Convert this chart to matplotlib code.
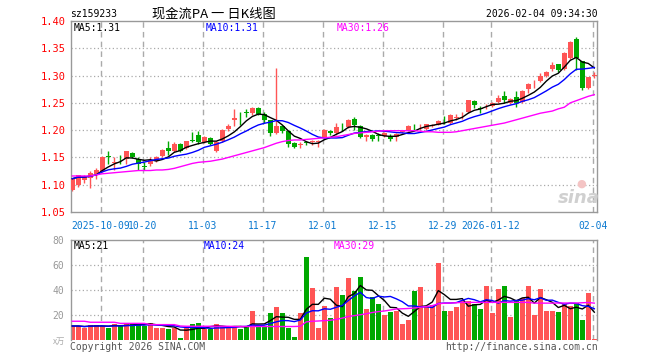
import matplotlib
matplotlib.use("Agg")
import matplotlib.pyplot as plt
import pandas as pd

plt.rcParams["font.family"] = ["DejaVu Sans Mono"]

# 日付 (88本)
dates = [
    "2025-09-24", "2025-09-25", "2025-09-26", "2025-09-29", "2025-09-30",
    "2025-10-09", "2025-10-10", "2025-10-13", "2025-10-14", "2025-10-15", "2025-10-16", "2025-10-17",
    "2025-10-20", "2025-10-21", "2025-10-22", "2025-10-23", "2025-10-24",
    "2025-10-27", "2025-10-28", "2025-10-29", "2025-10-30", "2025-10-31",
    "2025-11-03", "2025-11-04", "2025-11-05", "2025-11-06", "2025-11-07",
    "2025-11-10", "2025-11-11", "2025-11-12", "2025-11-13", "2025-11-14",
    "2025-11-17", "2025-11-18", "2025-11-19", "2025-11-20", "2025-11-21",
    "2025-11-24", "2025-11-25", "2025-11-26", "2025-11-27", "2025-11-28",
    "2025-12-01", "2025-12-02", "2025-12-03", "2025-12-04", "2025-12-05",
    "2025-12-08", "2025-12-09", "2025-12-10", "2025-12-11", "2025-12-12",
    "2025-12-15", "2025-12-16", "2025-12-17", "2025-12-18", "2025-12-19",
    "2025-12-22", "2025-12-23", "2025-12-24", "2025-12-25", "2025-12-26",
    "2025-12-29", "2025-12-30", "2025-12-31",
    "2026-01-05", "2026-01-06", "2026-01-07", "2026-01-08", "2026-01-09",
    "2026-01-12", "2026-01-13", "2026-01-14", "2026-01-15", "2026-01-16",
    "2026-01-19", "2026-01-20", "2026-01-21", "2026-01-22", "2026-01-23",
    "2026-01-26", "2026-01-27", "2026-01-28", "2026-01-29", "2026-01-30",
    "2026-02-02", "2026-02-03", "2026-02-04",
]

opens = [
    1.090, 1.100, 1.108, 1.112, 1.120, 1.126, 1.152, 1.139, 1.142, 1.147,
    1.159, 1.148, 1.134, 1.138, 1.144, 1.152, 1.168, 1.162, 1.175, 1.168,
    1.182, 1.192, 1.178, 1.186, 1.162, 1.181, 1.202, 1.218, 1.223, 1.233,
    1.232, 1.241, 1.229, 1.218, 1.195, 1.207, 1.198, 1.177, 1.173, 1.178,
    1.179, 1.179, 1.187, 1.199, 1.195, 1.206, 1.206, 1.221, 1.208, 1.187,
    1.192, 1.191, 1.190, 1.190, 1.187, 1.196, 1.200, 1.210, 1.207, 1.203,
    1.208, 1.210, 1.221, 1.213, 1.223, 1.229, 1.234, 1.254, 1.240, 1.244,
    1.244, 1.251, 1.263, 1.250, 1.260, 1.252, 1.275, 1.284, 1.290, 1.299,
    1.312, 1.321, 1.312, 1.332, 1.367, 1.326, 1.278, 1.300,
]
highs = [
    1.112, 1.118, 1.118, 1.125, 1.131, 1.152, 1.162, 1.150, 1.155, 1.162,
    1.160, 1.150, 1.141, 1.150, 1.153, 1.165, 1.180, 1.178, 1.176, 1.181,
    1.196, 1.199, 1.189, 1.188, 1.181, 1.203, 1.212, 1.239, 1.233, 1.239,
    1.242, 1.242, 1.233, 1.219, 1.314, 1.210, 1.199, 1.179, 1.178, 1.181,
    1.182, 1.182, 1.202, 1.200, 1.213, 1.214, 1.221, 1.224, 1.209, 1.193,
    1.193, 1.194, 1.196, 1.193, 1.194, 1.201, 1.209, 1.212, 1.211, 1.212,
    1.212, 1.219, 1.226, 1.229, 1.229, 1.234, 1.256, 1.255, 1.244, 1.248,
    1.252, 1.264, 1.271, 1.258, 1.271, 1.273, 1.286, 1.291, 1.305, 1.309,
    1.325, 1.322, 1.344, 1.363, 1.370, 1.327, 1.298, 1.307,
]
lows = [
    1.088, 1.096, 1.104, 1.094, 1.110, 1.124, 1.138, 1.127, 1.138, 1.138,
    1.149, 1.127, 1.127, 1.135, 1.141, 1.150, 1.155, 1.160, 1.160, 1.166,
    1.178, 1.175, 1.176, 1.172, 1.160, 1.179, 1.199, 1.207, 1.210, 1.224,
    1.228, 1.228, 1.213, 1.190, 1.193, 1.194, 1.170, 1.167, 1.168, 1.173,
    1.173, 1.170, 1.186, 1.191, 1.192, 1.199, 1.204, 1.200, 1.186, 1.181,
    1.181, 1.181, 1.188, 1.180, 1.180, 1.194, 1.198, 1.201, 1.200, 1.201,
    1.205, 1.209, 1.211, 1.211, 1.218, 1.221, 1.232, 1.240, 1.232, 1.239,
    1.243, 1.250, 1.249, 1.248, 1.243, 1.250, 1.268, 1.277, 1.289, 1.298,
    1.309, 1.306, 1.311, 1.330, 1.310, 1.273, 1.275, 1.295,
]
closes = [
    1.111, 1.117, 1.114, 1.121, 1.127, 1.151, 1.150, 1.142, 1.141, 1.162,
    1.150, 1.138, 1.133, 1.146, 1.150, 1.164, 1.162, 1.175, 1.162, 1.180,
    1.181, 1.178, 1.187, 1.174, 1.179, 1.201, 1.207, 1.223, 1.222, 1.232,
    1.241, 1.229, 1.218, 1.195, 1.207, 1.198, 1.175, 1.170, 1.174, 1.177,
    1.180, 1.180, 1.201, 1.195, 1.206, 1.205, 1.219, 1.209, 1.187, 1.192,
    1.183, 1.190, 1.195, 1.183, 1.193, 1.199, 1.207, 1.209, 1.208, 1.211,
    1.209, 1.217, 1.220, 1.227, 1.224, 1.230, 1.255, 1.246, 1.239, 1.245,
    1.250, 1.258, 1.255, 1.257, 1.250, 1.272, 1.285, 1.285, 1.300, 1.307,
    1.319, 1.310, 1.342, 1.362, 1.333, 1.277, 1.297, 1.301,
]
ma30 = [
    1.116, 1.116, 1.116, 1.116, 1.118, 1.120, 1.121, 1.122, 1.123, 1.124,
    1.125, 1.126, 1.126, 1.126, 1.127, 1.127, 1.128, 1.130, 1.133, 1.136,
    1.139, 1.141, 1.142, 1.143, 1.145, 1.147, 1.150, 1.153, 1.156, 1.159,
    1.162, 1.165, 1.168, 1.172, 1.176, 1.179, 1.181, 1.182, 1.182, 1.183,
    1.184, 1.185, 1.186, 1.187, 1.188, 1.190, 1.192, 1.194, 1.195, 1.196,
    1.197, 1.198, 1.199, 1.199, 1.199, 1.199, 1.199, 1.199, 1.198, 1.197,
    1.197, 1.196, 1.196, 1.196, 1.197, 1.199, 1.201, 1.203, 1.205, 1.207,
    1.209, 1.211, 1.213, 1.216, 1.219, 1.222, 1.225, 1.228, 1.231, 1.233,
    1.235, 1.239, 1.242, 1.250, 1.254, 1.258, 1.262, 1.265,
]
# 成交量 (万)
volumes = [
    11.2, 11.2, 9.9, 12.0, 12.0, 11.2, 9.9, 12.8, 11.2, 13.3,
    12.8, 13.3, 11.2, 13.9, 9.9, 10.0, 8.8, 9.3, 1.9, 9.3,
    12.8, 13.9, 8.5, 8.8, 12.8, 11.2, 11.2, 10.1, 8.8, 10.7,
    23.5, 10.7, 10.7, 21.9, 26.4, 21.9, 9.9, 2.4, 21.9, 66.5,
    41.9, 9.9, 27.0, 18.0, 42.5, 36.0, 49.9, 39.2, 50.4, 24.8,
    34.4, 28.8, 20.0, 22.7, 23.2, 12.8, 16.0, 39.2, 42.4, 26.4,
    28.0, 61.6, 23.2, 23.2, 26.4, 31.2, 31.2, 28.8, 24.8, 43.5,
    21.9, 40.8, 43.5, 18.4, 32.0, 33.6, 43.5, 20.0, 40.8, 23.2,
    23.2, 22.7, 28.8, 27.2, 29.3, 16.0, 37.9, 0.8,
]
vol_ma30 = [
    15.0, 15.0, 15.0, 14.2, 14.2, 14.2, 14.2, 14.2, 13.3, 13.3,
    13.3, 13.3, 13.3, 12.3, 12.3, 12.3, 12.3, 12.3, 11.2, 11.0,
    11.0, 11.0, 11.0, 11.0, 11.0, 11.0, 11.0, 10.8, 10.8, 10.8,
    10.8, 10.8, 10.8, 10.8, 10.8, 10.8, 10.8, 10.8, 11.0, 14.5,
    15.0, 15.2, 15.5, 15.8, 16.5, 17.5, 18.8, 19.5, 20.2, 21.0,
    22.0, 22.7, 23.2, 24.0, 24.8, 25.0, 25.2, 25.6, 26.2, 26.8,
    27.5, 29.0, 29.4, 29.6, 29.8, 30.1, 30.1, 30.1, 30.1, 30.1,
    30.1, 30.1, 30.1, 30.1, 30.1, 30.1, 30.1, 29.5, 29.5, 29.5,
    29.5, 29.6, 29.6, 29.6, 29.6, 29.8, 30.0, 29.5,
]

tick_dates = ["2025-10-09", "2025-10-20", "2025-11-03", "2025-11-17", "2025-12-01",
              "2025-12-15", "2025-12-29", "2026-01-12", "2026-02-04"]
tick_labels = ["2025-10-09", "10-20", "11-03", "11-17", "12-01",
               "12-15", "12-29", "2026-01-12", "02-04"]
price_ticks = [1.05, 1.10, 1.15, 1.20, 1.25, 1.30, 1.35, 1.40]
vol_ticks = [20, 40, 60, 80]

RED = "#ff5555"
GREEN = "#00a800"
GRID = "#aaaaaa"
BORDER = "#999999"

W, H = 660, 360
fig = plt.figure(figsize=(6.6, 3.6), dpi=100)


def frac_box(left, top, right, bottom):
    return [left / W, 1 - bottom / H, (right - left) / W, (bottom - top) / H]


ax = fig.add_axes(frac_box(70.7, 21, 597.3, 212))
axv = fig.add_axes(frac_box(70.7, 240, 597.3, 340))

x = list(range(len(dates)))
grid_x = [dates.index(d) - 0.27 for d in tick_dates]

s_close = pd.Series(closes)
ma5 = s_close.rolling(5, min_periods=1).mean()
ma10 = s_close.rolling(10, min_periods=1).mean()

s_vol = pd.Series(volumes)
vma5 = s_vol.rolling(5, min_periods=1).mean()
vma10 = s_vol.rolling(10, min_periods=1).mean()

for a in (ax, axv):
    a.set_xlim(-0.27, len(dates) - 0.5)
    for gx in grid_x:
        a.axvline(gx, color=GRID, lw=1, linestyle=(0, (4, 3)), zorder=0)
    for sp in a.spines.values():
        sp.set_color(BORDER)
        sp.set_linewidth(1)
    a.set_xticks([])
    a.tick_params(length=0)

# ローソク足
for i in x:
    o, h, l, c = opens[i], highs[i], lows[i], closes[i]
    col = RED if c >= o else GREEN
    ax.vlines(i, l, h, color=col, lw=1, zorder=2)
    body = max(abs(c - o), 0.0007)
    ax.bar(i, body, bottom=min(o, c), width=0.78, color=col, lw=0, zorder=3)

ax.plot(x, ma5, color="black", lw=1, zorder=4)
ax.plot(x, ma10, color="#0000ff", lw=1, zorder=4)
ax.plot(x, ma30, color="#ff00ff", lw=1, zorder=4)

ax.set_ylim(1.05, 1.40)
for p in price_ticks[1:-1]:
    ax.axhline(p, color=GRID, lw=0.9, linestyle=(0, (1, 2)), zorder=0)
ax.set_yticks(price_ticks)
ax.set_yticklabels([f"{p:.2f}" for p in price_ticks], color="#ff0000", fontsize=7.5)
ax.tick_params(axis="y", pad=3.5)

for gx, lab in zip(grid_x, tick_labels):
    ax.text(gx, -0.045, lab, transform=ax.get_xaxis_transform(), ha="center", va="top",
            color="#0a78d0", fontsize=7)

# 成交量
vol_cols = [RED if closes[i] >= opens[i] else GREEN for i in x]
axv.bar(x, volumes, width=0.83, color=vol_cols, lw=0, zorder=2)
axv.plot(x, vma5, color="black", lw=1, zorder=4)
axv.plot(x, vma10, color="#0000ff", lw=1, zorder=4)
axv.plot(x, vol_ma30, color="#ff00ff", lw=1, zorder=4)
axv.set_ylim(0, 80)
for v in vol_ticks[:-1]:
    axv.axhline(v, color=GRID, lw=0.9, linestyle=(0, (1, 2)), zorder=0)
axv.set_yticks(vol_ticks)
axv.set_yticklabels([str(v) for v in vol_ticks], color="#999999", fontsize=7)
axv.tick_params(axis="y", pad=5)
axv.spines["bottom"].set_visible(False)


def ftext(px, py, s, size=7, **kw):
    fig.text(px / W, 1 - py / H, s, va="center", fontsize=size, **kw)


ftext(70, 14, "sz159233", color="black")
ftext(152, 14, "现金流PA 一 日K线图", size=9.5, color="black",
      family=["Noto Sans CJK SC", "DejaVu Sans"])
ftext(598, 14, "2026-02-04 09:34:30", color="black", ha="right")

ftext(74, 28, "MA5:1.31", color="black")
ftext(206, 28, "MA10:1.31", color="#0000ff")
ftext(337, 28, "MA30:1.26", color="#ff00ff")

ftext(74, 246, "MA5:21", color="black")
ftext(204, 246, "MA10:24", color="#0000ff")
ftext(334, 246, "MA30:29", color="#ff00ff")

ftext(65, 341, "x万", size=6, color="#aaaaaa", ha="right",
      family=["Noto Sans CJK SC", "DejaVu Sans"])
ftext(70, 347, "Copyright 2026 SINA.COM", color="#555555")
ftext(598, 347, "http://finance.sina.com.cn", color="#555555", ha="right")

# sina 透かし
ftext(579, 198, "sina", size=13, color="#d0d0d0", ha="center", fontweight="bold",
      style="italic", family=["DejaVu Sans"])
ftext(581, 184, "●", size=8, color="#f4c4c4", ha="center", family=["DejaVu Sans"])

fig.savefig("out.png", dpi=100)
